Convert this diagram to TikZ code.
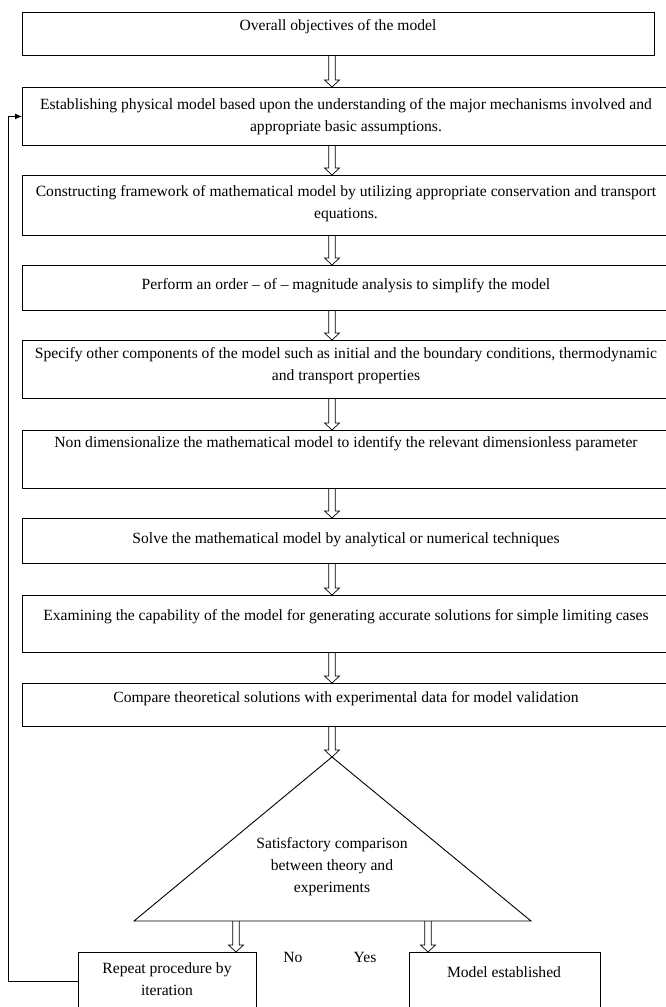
\documentclass[tikz,border=0pt]{standalone}
\usepackage{fontspec}
\setmainfont{Liberation Serif}
\usetikzlibrary{arrows.meta,calc}
\begin{document}
\begin{tikzpicture}[x=1pt,y=-1pt,
  box/.style={draw, line width=0.9pt, anchor=north west, inner sep=0pt},
  txt/.style={align=center, font=\fontsize{15.6}{22}\selectfont, inner sep=0pt},
  dbl/.style={line width=0.7pt, line join=miter, to path={
    let \p1=(\tikztostart), \p2=(\tikztotarget) in
    ({\x1-3.3pt},\y1) -- ({\x1-3.3pt},{\y2+7pt}) -- ({\x1-7.5pt},{\y2+7pt}) -- (\x1,\y2)
    -- ({\x1+7.5pt},{\y2+7pt}) -- ({\x1+3.3pt},{\y2+7pt}) -- ({\x1+3.3pt},\y1)}},
  fb/.style={line width=0.9pt, -{Latex[length=7pt,width=6pt]}}]
\useasboundingbox (0,0) rectangle (666,1007);
\clip (0,0) rectangle (666,1007);
\fill[white] (0,0) rectangle (666,1007);
\coordinate (ax) at (332,0);
\coordinate (fbx) at (8,0);
% boxes
\node[box, minimum width=632, minimum height=43] (t1) at (22,12) {};
\node[box, minimum width=648, minimum height=58] (b2) at (22,87) {};
\node[box, minimum width=648, minimum height=60] (b3) at (22,175) {};
\node[box, minimum width=648, minimum height=45] (b4) at (22,265) {};
\node[box, minimum width=648, minimum height=58] (b5) at (22,340) {};
\node[box, minimum width=648, minimum height=58] (b6) at (22,430) {};
\node[box, minimum width=648, minimum height=45] (b7) at (22,518) {};
\node[box, minimum width=648, minimum height=57] (b8) at (22,595) {};
\node[box, minimum width=648, minimum height=43] (b9) at (22,683) {};
\node[box, minimum width=178, minimum height=58] (rep) at (78,952) {};
\node[box, minimum width=191, minimum height=58] (mod) at (409,952) {};
% triangle
\coordinate (apex) at (332,757);
\coordinate (tl) at (134,921);
\coordinate (tr) at (531,921);
\draw[line width=0.9pt] (apex) -- (tr) -- (tl) -- cycle;
% texts
\node[txt] (x1) at (338,27) {Overall objectives of the model};
\node[txt] (x2) at (346,117) {Establishing physical model based upon the understanding of the major mechanisms involved and\\appropriate basic assumptions.};
\node[txt] (x3) at (346,204) {Constructing framework of mathematical model by utilizing appropriate conservation and transport\\equations.};
\node[txt] (x4) at (346,286) {Perform an order -- of -- magnitude analysis to simplify the model};
\node[txt] (x5) at (346,366) {Specify other components of the model such as initial and the boundary conditions, thermodynamic\\and transport properties};
\node[txt] (x6) at (346,444) {Non dimensionalize the mathematical model to identify the relevant dimensionless parameter};
\node[txt] (x7) at (346,540) {Solve the mathematical model by analytical or numerical techniques};
\node[txt] (x8) at (346,617) {Examining the capability of the model for generating accurate solutions for simple limiting cases};
\node[txt] (x9) at (346,699) {Compare theoretical solutions with experimental data for model validation};
\node[txt] (xt) at (332,867) {Satisfactory comparison\\between theory and\\experiments};
\node[txt] (xr) at (167,979) {Repeat procedure by\\iteration};
\node[txt] (xm) at (504,972) {Model established};
\node[txt] (no) at (293,957) {No};
\node[txt] (yes) at (365,957) {Yes};
% arrows
\draw[dbl] (t1.south -| ax) to (b2.north -| ax);
\draw[dbl] (b2.south -| ax) to (b3.north -| ax);
\draw[dbl] (b3.south -| ax) to (b4.north -| ax);
\draw[dbl] (b4.south -| ax) to (b5.north -| ax);
\draw[dbl] (b5.south -| ax) to (b6.north -| ax);
\draw[dbl] (b6.south -| ax) to (b7.north -| ax);
\draw[dbl] (b7.south -| ax) to (b8.north -| ax);
\draw[dbl] (b8.south -| ax) to (b9.north -| ax);
\draw[dbl] (b9.south -| ax) to (apex);
\coordinate (na) at (236,921);
\coordinate (ya) at (428,921);
\draw[dbl] (na) to (na |- rep.north);
\draw[dbl] (ya) to (ya |- mod.north);
% feedback
\draw[fb] (rep.west) -- (rep.west -| fbx) |- (b2.west);
\end{tikzpicture}
\end{document}
